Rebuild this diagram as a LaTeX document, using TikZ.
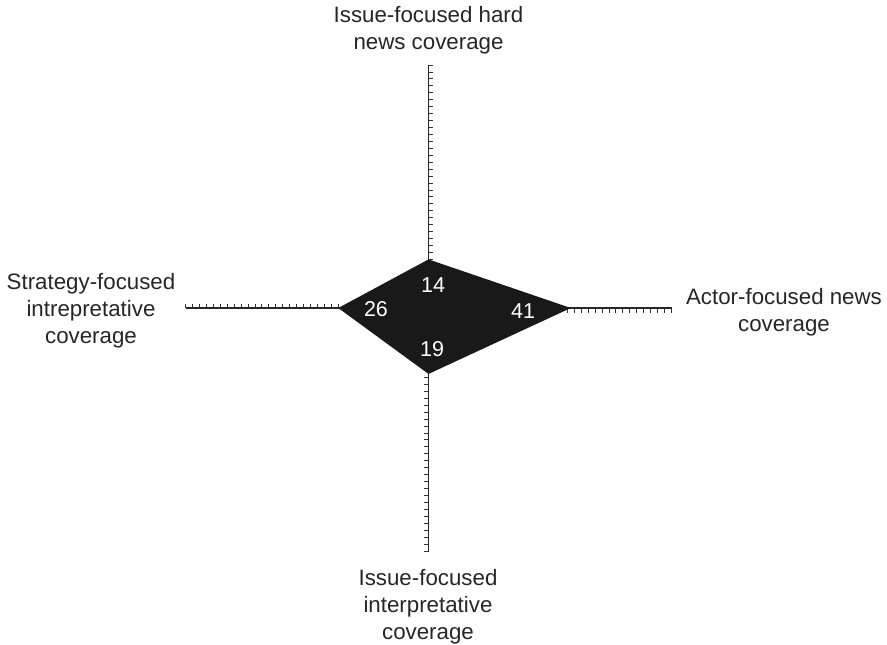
\documentclass[tikz,border=0pt]{standalone}
\usepackage{fontspec}
\setmainfont{Liberation Sans}
\begin{document}
\begin{tikzpicture}[x=1pt,y=-1pt,
  axis/.style={line width=1.3pt,draw=black!85},
  tick/.style={line width=0.9pt,draw=black!80},
  lbl/.style={align=center,font=\fontsize{22.3}{27}\selectfont,text=black!85,inner sep=0pt},
  num/.style={font=\fontsize{21.5}{24}\selectfont,text=white,inner sep=0pt},
  diam/.style={fill=black!90}]
\useasboundingbox (0,0) rectangle (887,645);
\def\s{3.471}
\coordinate (O) at (428.5,308);
\coordinate (T) at (428.5,65);
\coordinate (B) at (428.5,551);
\coordinate (L) at (185.5,308);
\coordinate (R) at (671.5,308);
\draw[axis] (O) -- (T);
\draw[axis] (O) -- (B);
\draw[axis] (O) -- (L);
\draw[axis] (O) -- (R);
\foreach \i in {2,4,...,70} {
  \draw[tick] (428.5,{308-\i*\s}) -- ++(4.5,0);
  \draw[tick] (428.5,{308+\i*\s}) -- ++(-4.5,0);
  \draw[tick] ({428.5-\i*\s},308) -- ++(0,-4.5);
  \draw[tick] ({428.5+\i*\s},308) -- ++(0,4.5);
}
\coordinate (v14) at (428.5,{308-14*\s});
\coordinate (v41) at ({428.5+41*\s},308);
\coordinate (v19) at (428.5,{308+19*\s});
\coordinate (v26) at ({428.5-26*\s},308);
\fill[diam] (v14) -- (v41) -- (v19) -- (v26) -- cycle;
\node[num] (n14) at (433,285) {14};
\node[num] (n26) at (376,309) {26};
\node[num] (n41) at (523,311) {41};
\node[num] (n19) at (432,349) {19};
\node[lbl] (top) at (428.5,30.5) {Issue-focused hard\\news coverage};
\node[lbl] (left) at (91,311) {Strategy-focused\\intrepretative\\coverage};
\node[lbl] (right) at (784,312.5) {Actor-focused news\\coverage};
\node[lbl] (bottom) at (428,607) {Issue-focused\\interpretative\\coverage};
\end{tikzpicture}
\end{document}
